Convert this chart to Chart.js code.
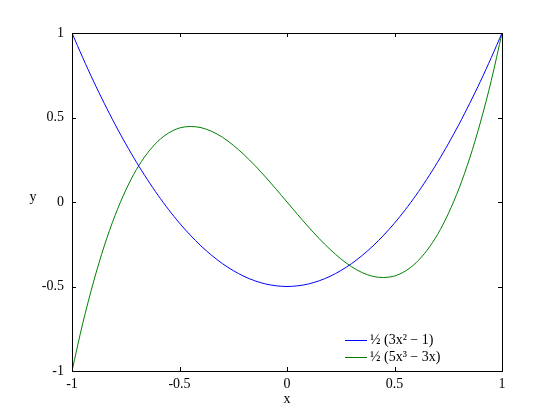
<!DOCTYPE html>
<html>
<head>
<meta charset="utf-8">
<script src="https://cdn.jsdelivr.net/npm/chart.js@4"></script>
<style>
  body { margin: 0; background: #fff; }
  #wrap { width: 556px; height: 417px; }
</style>
</head>
<body>
<div id="wrap"><canvas id="legendreChart" width="556" height="417"></canvas></div>
<script>
// valores
const xs = [-1, -0.95, -0.9, -0.85, -0.8, -0.75, -0.7, -0.65, -0.6, -0.55, -0.5, -0.45, -0.4, -0.35, -0.3, -0.25, -0.2, -0.15, -0.1, -0.05,
            0, 0.05, 0.1, 0.15, 0.2, 0.25, 0.3, 0.35, 0.4, 0.45, 0.5, 0.55, 0.6, 0.65, 0.7, 0.75, 0.8, 0.85, 0.9, 0.95, 1];
const p2 = [1, 0.854, 0.715, 0.584, 0.46, 0.344, 0.235, 0.134, 0.04, -0.046, -0.125, -0.196, -0.26, -0.316, -0.365, -0.406, -0.44, -0.466, -0.485, -0.496,
            -0.5, -0.496, -0.485, -0.466, -0.44, -0.406, -0.365, -0.316, -0.26, -0.196, -0.125, -0.046, 0.04, 0.134, 0.235, 0.344, 0.46, 0.584, 0.715, 0.854, 1];
const p3 = [-1, -0.718, -0.473, -0.26, -0.08, 0.07, 0.193, 0.288, 0.36, 0.409, 0.438, 0.447, 0.44, 0.418, 0.383, 0.336, 0.28, 0.217, 0.148, 0.075,
            0, -0.075, -0.148, -0.217, -0.28, -0.336, -0.383, -0.418, -0.44, -0.447, -0.438, -0.409, -0.36, -0.288, -0.193, -0.07, 0.08, 0.26, 0.473, 0.718, 1];
const seriesLabels = ['½ (3x² − 1)', '½ (5x³ − 3x)'];
const seriesColors = ['#0000ff', '#008000'];
const tickValues = [-1, -0.5, 0, 0.5, 1];

const FONT = "'Liberation Serif', 'DejaVu Serif', serif";
Chart.defaults.font.family = FONT;
Chart.defaults.font.size = 14;
Chart.defaults.color = '#000';

// caja, ticks hacia dentro, títulos de ejes y leyenda
const framePlugin = {
    id: 'frame',
    afterDraw(chart) {
        const { ctx, chartArea: a, scales } = chart;
        ctx.save();
        ctx.strokeStyle = '#000';
        ctx.lineWidth = 1;
        ctx.strokeRect(a.left + 0.5, a.top + 0.5, a.right - a.left, a.bottom - a.top);
        const len = 4;
        ctx.beginPath();
        tickValues.forEach(v => {
            const px = Math.round(scales.x.getPixelForValue(v)) + 0.5;
            ctx.moveTo(px, a.bottom); ctx.lineTo(px, a.bottom - len);
            ctx.moveTo(px, a.top); ctx.lineTo(px, a.top + len);
            const py = Math.round(scales.y.getPixelForValue(v)) + 0.5;
            ctx.moveTo(a.left, py); ctx.lineTo(a.left + len, py);
            ctx.moveTo(a.right, py); ctx.lineTo(a.right - len, py);
        });
        ctx.stroke();

        ctx.fillStyle = '#000';
        ctx.font = '14px ' + FONT;
        ctx.textAlign = 'center';
        ctx.textBaseline = 'middle';
        ctx.fillText('x', (a.left + a.right) / 2, 399);
        ctx.fillText('y', 33, 197);

        // leyenda
        ctx.textAlign = 'left';
        chart.data.datasets.forEach((ds, i) => {
            const y = 340 + i * 17 + 0.5;
            ctx.strokeStyle = ds.borderColor;
            ctx.beginPath();
            ctx.moveTo(345, y); ctx.lineTo(367, y);
            ctx.stroke();
            ctx.fillText(ds.label, 370, y);
        });
        ctx.restore();
    }
};

new Chart(document.getElementById('legendreChart'), {
    type: 'line',
    data: {
        datasets: [0, 1].map(i => ({
            label: seriesLabels[i],
            data: xs.map((x, j) => ({ x, y: (i === 0 ? p2 : p3)[j] })),
            borderColor: seriesColors[i],
            borderWidth: 1,
            pointRadius: 0,
            tension: 0.3,
            fill: false
        }))
    },
    options: {
        responsive: false,
        animation: false,
        layout: { padding: { top: 33, right: 54, left: 0, bottom: 0 } },
        plugins: { legend: { display: false }, tooltip: { enabled: false } },
        scales: {
            x: {
                type: 'linear', min: -1, max: 1,
                afterBuildTicks: s => { s.ticks = tickValues.map(v => ({ value: v })); },
                afterFit: s => { s.height = 46; },
                grid: { display: false, drawTicks: false },
                border: { display: false },
                ticks: { padding: 5, maxRotation: 0, callback: v => String(v) }
            },
            y: {
                type: 'linear', min: -1, max: 1,
                afterBuildTicks: s => { s.ticks = tickValues.map(v => ({ value: v })); },
                afterFit: s => { s.width = 72; },
                grid: { display: false, drawTicks: false },
                border: { display: false },
                ticks: { padding: 8, callback: v => String(v) }
            }
        }
    },
    plugins: [framePlugin]
});
</script>
</body>
</html>
